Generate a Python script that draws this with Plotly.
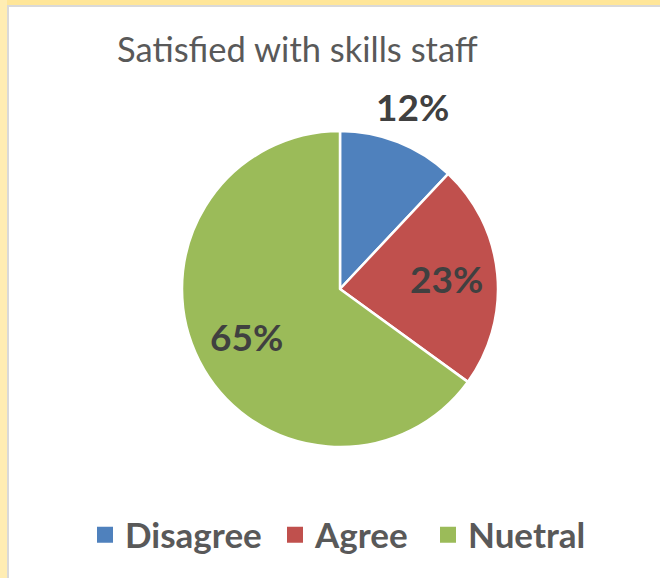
import math
import plotly.graph_objects as go

categories = ["Disagree", "Agree", "Nuetral"]
values = [12, 23, 65]
colors = ["#4F81BD", "#C0504D", "#9BBB59"]
title_text = "Satisfied with skills staff"

W, H = 660, 578
cx, cy, r = 340, 289, 158
# label distance from centre, as fraction of radius, per slice (style)
label_dist = [1.242, 0.675, 0.665]
legend_x = [85, 275, 428]

fig = go.Figure()
fig.add_trace(go.Pie(
    labels=categories,
    values=values,
    sort=False,
    direction="clockwise",
    rotation=0,
    marker=dict(colors=colors, line=dict(color="white", width=2.5)),
    textinfo="none",
    domain=dict(x=[(cx - r) / W, (cx + r) / W], y=[1 - (cy + r) / H, 1 - (cy - r) / H]),
    hoverinfo="label+percent",
    showlegend=False,
))

legend_names = ["legend", "legend2", "legend3"]
for name, col, lg in zip(categories, colors, legend_names):
    fig.add_trace(go.Scatter(
        x=[None], y=[None], mode="markers", name=name,
        marker=dict(symbol="square", size=16, color=col),
        showlegend=True, legend=lg,
    ))

# percentage labels placed at each slice's mid-angle
total = sum(values)
annotations = []
cum = 0
for v, d in zip(values, label_dist):
    mid = (cum + v / 2) / total * 360
    cum += v
    px = cx + d * r * math.sin(math.radians(mid))
    py = cy - d * r * math.cos(math.radians(mid))
    annotations.append(dict(
        text=f"{v / total:.0%}", x=px / W, y=1 - py / H, xref="paper", yref="paper",
        xanchor="center", yanchor="middle", showarrow=False,
        font=dict(family="Lato", size=37, color="#404040", weight="bold"),
    ))

legend_font = dict(family="Lato", size=35, color="#595959", weight="bold")
legend_common = dict(orientation="h", xanchor="left", y=1 - 535 / H, yanchor="middle",
                     font=legend_font, itemwidth=30, bgcolor="rgba(0,0,0,0)")

fig.update_layout(
    width=W, height=H,
    margin=dict(l=0, r=0, t=0, b=0),
    paper_bgcolor="white",
    plot_bgcolor="white",
    xaxis=dict(visible=False),
    yaxis=dict(visible=False),
    title=dict(text=title_text, x=117 / W, xanchor="left", y=1 - 50 / H, yanchor="middle",
               font=dict(family="Lato", size=34.5, color="#595959")),
    legend=dict(x=legend_x[0] / W, **legend_common),
    legend2=dict(x=legend_x[1] / W, **legend_common),
    legend3=dict(x=legend_x[2] / W, **legend_common),
    showlegend=True,
    annotations=annotations,
    shapes=[
        dict(type="rect", xref="paper", yref="paper", x0=0, x1=1, y0=1 - 5 / H, y1=1.02,
             fillcolor="#FFE699", line=dict(width=0), layer="above"),
        dict(type="rect", xref="paper", yref="paper", x0=-0.02, x1=7 / W, y0=-0.02, y1=1.02,
             fillcolor="#FFEDB3", line=dict(width=0), layer="above"),
        dict(type="rect", xref="paper", yref="paper", x0=7 / W, x1=1, y0=1 - 7 / H, y1=1 - 5 / H,
             fillcolor="#D9D9D9", line=dict(width=0), layer="above"),
        dict(type="rect", xref="paper", yref="paper", x0=7 / W, x1=9 / W, y0=-0.02, y1=1 - 5 / H,
             fillcolor="#D9D9D9", line=dict(width=0), layer="above"),
    ],
)

fig.write_html("out.html", config={"displayModeBar": False},
               post_script="document.body.style.margin='0';document.body.style.overflow='hidden';")
